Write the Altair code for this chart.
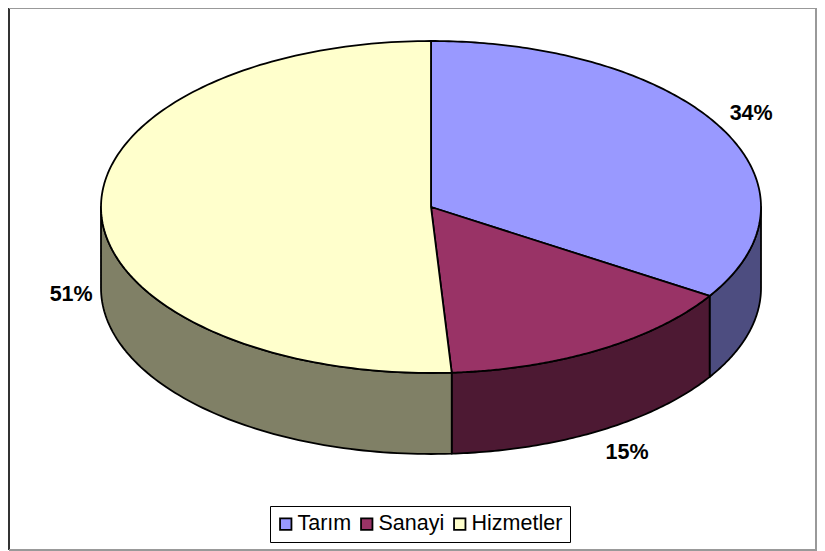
import numpy as np
import pandas as pd
import altair as alt

categories = ["Tarım", "Sanayi", "Hizmetler"]
shares = [34, 15, 51]
top_colors = ["#9999FF", "#993366", "#FFFFCC"]
side_colors = ["#4D4D80", "#4D1933", "#808066"]
label_texts = ["34%", "15%", "51%"]

# geometry of the tilted disc, in pixels of the plot area
W, H = 809, 543
CX, CY, RX, RY, DEPTH = 423, 199, 330, 166, 81
LABEL_OFFSET = [(31, -13), (28, 103), (-30, 83)]  # label shift from the rim midpoint


def rim(turn):
    a = np.radians(turn * 3.6)
    return CX + RX * np.sin(a), CY - RY * np.cos(a)


edges = np.concatenate([[0], np.cumsum(shares)]).astype(float)
rows = []
for i, cat in enumerate(categories):
    lo, hi = edges[i], edges[i + 1]
    # side wall: only the part facing the viewer (25..75 %)
    s0, s1 = max(lo, 25), min(hi, 75)
    if s1 > s0:
        t = np.linspace(s0, s1, 80)
        xs, ys = rim(t)
        px = np.concatenate([xs, xs[::-1]])
        py = np.concatenate([ys, ys[::-1] + DEPTH])
        for k, (a, b) in enumerate(zip(px, py)):
            rows.append(dict(part=f"side{i}", cat=cat, x=a, y=b, k=k, layer=0))
    t = np.linspace(lo, hi, 160)
    xs, ys = rim(t)
    px = np.concatenate([[CX], xs])
    py = np.concatenate([[CY], ys])
    for k, (a, b) in enumerate(zip(px, py)):
        rows.append(dict(part=f"top{i}", cat=cat, x=a, y=b, k=k, layer=1))
df = pd.DataFrame(rows)

xs_scale = alt.Scale(domain=[0, W], range=[0, W], nice=False, zero=False)
ys_scale = alt.Scale(domain=[0, H], range=[0, H], nice=False, zero=False)


def poly(part, fill):
    return (
        alt.Chart(df[df.part == part])
        .mark_line(
            interpolate="linear-closed",
            fill=fill,
            stroke="#000000",
            strokeWidth=1.8,
            strokeJoin="round",
        )
        .encode(
            x=alt.X("x:Q", scale=xs_scale, axis=None),
            y=alt.Y("y:Q", scale=ys_scale, axis=None),
            order="k:Q",
        )
    )


layers = []
for i in range(3):
    if f"side{i}" in set(df.part):
        layers.append(poly(f"side{i}", side_colors[i]))
for i in range(3):
    layers.append(poly(f"top{i}", top_colors[i]))

# percent labels
mid = (edges[:-1] + edges[1:]) / 2
mx, my = rim(mid)
lab = pd.DataFrame(
    dict(
        text=label_texts,
        x=mx + [o[0] for o in LABEL_OFFSET],
        y=my + [o[1] for o in LABEL_OFFSET],
    )
)
labels = (
    alt.Chart(lab)
    .mark_text(font="Liberation Sans", fontSize=21.5, fontWeight="bold", color="#000000")
    .encode(
        x=alt.X("x:Q", scale=xs_scale, axis=None),
        y=alt.Y("y:Q", scale=ys_scale, axis=None),
        text="text:N",
    )
)

# frame
frame_df = pd.DataFrame(
    [
        dict(x=1, x2=1, y=0, y2=542, c="#333333"),
        dict(x=1, x2=W, y=0, y2=0, c="#999999"),
        dict(x=1, x2=W, y=542, y2=542, c="#999999"),
        dict(x=W - 1, x2=W - 1, y=0, y2=542, c="#999999"),
    ]
)
frame = (
    alt.Chart(frame_df)
    .mark_rule(strokeWidth=2)
    .encode(
        x=alt.X("x:Q", scale=xs_scale, axis=None),
        x2="x2:Q",
        y=alt.Y("y:Q", scale=ys_scale, axis=None),
        y2="y2:Q",
        color=alt.Color("c:N", scale=None, legend=None),
    )
)

# legend carrier
key = (
    alt.Chart(pd.DataFrame(dict(cat=categories, x=[CX] * 3, y=[CY] * 3)))
    .mark_square(size=0, opacity=1, filled=True)
    .encode(
        x=alt.X("x:Q", scale=xs_scale, axis=None),
        y=alt.Y("y:Q", scale=ys_scale, axis=None),
        fill=alt.Fill(
            "cat:N",
            scale=alt.Scale(domain=categories, range=top_colors),
            sort=categories,
            legend=alt.Legend(
                title=None,
                orient="none",
                legendX=262,
                legendY=498,
                direction="horizontal",
                columns=3,
                fillColor="#FFFFFF",
                strokeColor="#000000",
                padding=7,
                symbolType="square",
                symbolSize=130,
                symbolOffset=-2,
                symbolStrokeColor="#000000",
                symbolStrokeWidth=1.8,
                symbolOpacity=1,
                labelFont="Liberation Sans",
                labelFontSize=21.5,
                labelColor="#000000",
                labelOffset=1,
                columnPadding=5,
            ),
        ),
    )
)

chart = (
    alt.layer(frame, *layers, labels, key)
    .properties(width=W, height=H, padding=0, autosize=alt.AutoSizeParams(type="none"))
    .configure_view(stroke=None)
    .resolve_scale(fill="independent")
)

chart.save("out.html", embed_options={"renderer": "svg", "actions": False})
